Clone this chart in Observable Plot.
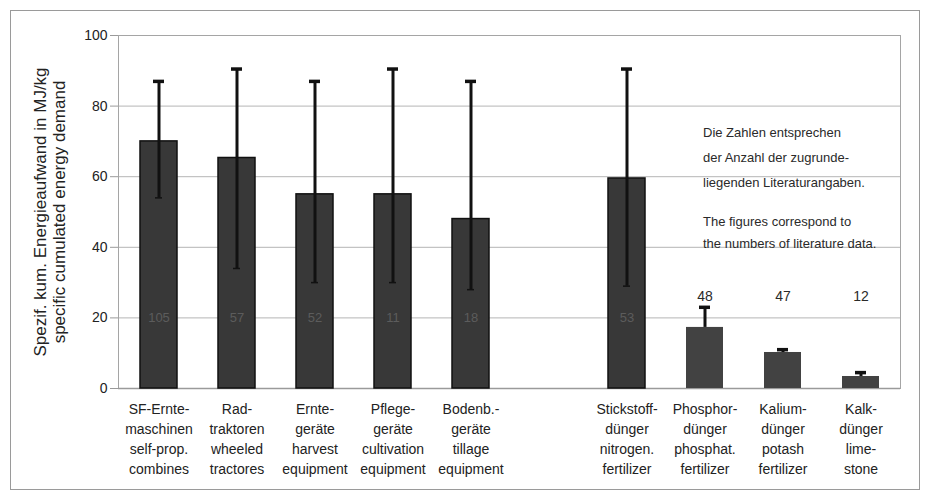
<!DOCTYPE html>
<html>
<head>
<meta charset="utf-8">
<script src="https://cdn.jsdelivr.net/npm/d3@7"></script>
<script src="https://cdn.jsdelivr.net/npm/@observablehq/plot@0.6"></script>
<style>
  html, body { margin: 0; padding: 0; background: #fff; }
  #wrap { position: relative; width: 931px; height: 497px; font-family: "Liberation Sans", Arial, sans-serif; }
  #border { position: absolute; left: 10px; top: 10px; width: 908px; height: 478px; border: 1.5px solid #9a9a9a; pointer-events: none; }
  .note { position: absolute; left: 703px; font-size: 13px; color: #2a2a2a; }
  #n1 { top: 120px; line-height: 25px; }
  #n2 { top: 211px; line-height: 22px; }
</style>
</head>
<body>
<div id="wrap">
  <div id="chart"></div>
  <div id="border"></div>
  <div class="note" id="n1">Die Zahlen entsprechen<br>der Anzahl der zugrunde-<br>liegenden Literaturangaben.</div>
  <div class="note" id="n2">The figures correspond to<br>the numbers of literature data.</div>
</div>
<script>
const categories = ["SF-Erntemaschinen", "Radtraktoren", "Erntegeräte", "Pflegegeräte", "Bodenbearbeitungsgeräte", "gap", "Stickstoffdünger", "Phosphordünger", "Kaliumdünger", "Kalkdünger"];
const tickLabels = [
  "SF-Ernte-\nmaschinen\nself-prop.\ncombines",
  "Rad-\ntraktoren\nwheeled\ntractores",
  "Ernte-\ngeräte\nharvest\nequipment",
  "Pflege-\ngeräte\ncultivation\nequipment",
  "Bodenb.-\ngeräte\ntillage\nequipment",
  "",
  "Stickstoff-\ndünger\nnitrogen.\nfertilizer",
  "Phosphor-\ndünger\nphosphat.\nfertilizer",
  "Kalium-\ndünger\npotash\nfertilizer",
  "Kalk-\ndünger\nlime-\nstone"
];
const values  = [70, 65.3, 55, 55, 48, null, 59.5, 17.3, 10.2, 3.4];
const errHigh = [87, 90.5, 87, 90.5, 87, null, 90.5, 23, 11, 4.5];
const errLow  = [54, 34, 30, 30, 28, null, 29, 17.3, 10.2, 3.4];
const countsInside = [105, 57, 52, 11, 18, null, 53, null, null, null];
const countsAbove  = [null, null, null, null, null, null, null, 48, 47, 12];
const yTicks = [0, 20, 40, 60, 80, 100];
const yTitle = "Spezif. kum. Energieaufwand in MJ/kg\nspecific cumulated energy demand";

const data = categories.map((c, i) => ({
  cat: c, label: tickLabels[i], value: values[i], hi: errHigh[i], lo: errLow[i],
  nIn: countsInside[i], nUp: countsAbove[i], fert: i >= 7
})).filter(d => d.value != null);
const labelOf = new Map(categories.map((c, i) => [c, tickLabels[i]]));

const chart = Plot.plot({
  width: 931,
  height: 497,
  marginLeft: 118,
  marginRight: 31,
  marginTop: 35,
  marginBottom: 109,
  style: { fontFamily: "Liberation Sans, Arial, sans-serif", color: "#222", background: "transparent" },
  x: { type: "band", domain: categories, paddingInner: 0.53, paddingOuter: 0.265, label: null },
  y: { domain: [0, 100], label: null },
  marks: [
    Plot.gridY(yTicks, { stroke: "#b5b5b5", strokeOpacity: 1, strokeWidth: 1 }),
    Plot.frame({ stroke: "#a5a5a5", strokeWidth: 1 }),
    Plot.ruleY([0], { stroke: "#9a9a9a", strokeWidth: 1.5 }),
    Plot.axisY(yTicks, { tickSize: 8, tickPadding: 3, stroke: "#9a9a9a", fontSize: 14, fill: "#222", label: null }),
    Plot.axisX({ tickSize: 0, tickPadding: 11, fontSize: 14, lineHeight: 1.43, fill: "#222", tickFormat: c => labelOf.get(c), label: null }),
    Plot.barY(data, {
      x: "cat", y: "value",
      fill: d => d.fert ? "#424242" : "#383838",
      stroke: d => d.fert ? "none" : "#111",
      strokeWidth: 1.5
    }),
    Plot.ruleX(data, { x: "cat", y1: "lo", y2: "hi", stroke: "#111", strokeWidth: 3 }),
    Plot.tickY(data, { x: "cat", y: "hi", stroke: "#111", strokeWidth: 3.5, insetLeft: 13, insetRight: 13 }),
    Plot.tickY(data.filter(d => !d.fert), { x: "cat", y: "lo", stroke: "#111", strokeWidth: 1.5, insetLeft: 15, insetRight: 15 }),
    Plot.text(data.filter(d => d.nIn != null), { x: "cat", y: () => 20, text: "nIn", fill: "#5c5c5c", fontSize: 13 }),
    Plot.text(data.filter(d => d.nUp != null), { x: "cat", y: () => 26, text: "nUp", fill: "#2a2a2a", fontSize: 14 }),
    Plot.text([yTitle], { frameAnchor: "left", textAnchor: "middle", rotate: -90, dx: -69, fontSize: 17, lineHeight: 1.08, fill: "#222" })
  ]
});
document.getElementById("chart").appendChild(chart);
</script>
</body>
</html>
